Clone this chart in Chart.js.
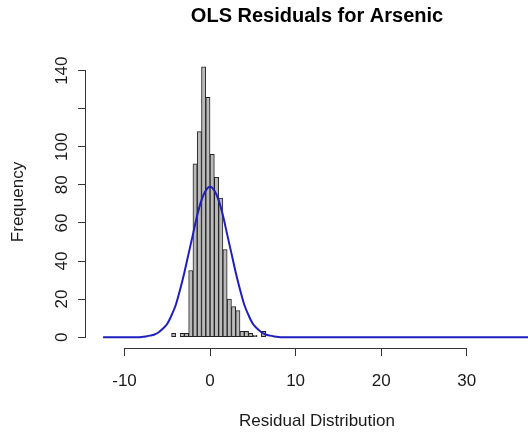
<!DOCTYPE html>
<html>
<head>
<meta charset="utf-8">
<script src="https://cdn.jsdelivr.net/npm/chart.js@4.4.1/dist/chart.umd.min.js"></script>
<style>
  html, body { margin: 0; padding: 0; overflow: hidden; background: #fff; }
  #wrap { width: 570px; height: 436px; position: relative; }
</style>
</head>
<body>
<div id="wrap"><canvas id="residChart"></canvas></div>
<script>
// histogram bins (mid points, bin width 0.5) and counts
const binMids = [-4.25, -3.75, -3.25, -2.75, -2.25, -1.75, -1.25, -0.75, -0.25, 0.25, 0.75,
                 1.25, 1.75, 2.25, 2.75, 3.25, 3.75, 4.25, 4.75, 5.25, 5.75, 6.25];
const binCounts = [2, 0, 2, 2, 35, 91, 108, 142, 126, 96, 84,
                   73, 46, 20, 16, 14, 3, 3, 2, 1, 0, 3];

// normal curve overlay
const curveX = [-12.5, -8.5, -8, -7.5, -7, -6.5, -6, -5.5, -5, -4.5, -4, -3.5, -3, -2.5, -2, -1.5, -1, -0.5, 0,
                0.5, 1, 1.5, 2, 2.5, 3, 3.5, 4, 4.5, 5, 5.5, 6, 6.5, 7, 7.5, 8, 8.5, 37.5];
const curveY = [0, 0, 0.1, 0.4, 0.8, 1.4, 2.6, 4.5, 7, 11.5, 17, 25, 34, 44, 54, 64, 72, 77, 79,
                77, 72, 64, 54, 44, 34, 25, 17, 11.5, 7, 4.5, 2.6, 1.4, 0.8, 0.4, 0.1, 0, 0];

const xTicks = [-10, 0, 10, 20, 30];
const yTicks = [0, 20, 40, 60, 80, 100, 120, 140];
const yTickLabels = ['0', '20', '40', '60', '80', '100', '', '140'];

const FONT = "'Liberation Sans', Arial, sans-serif";
const INK = '#1a1a1a';

// R style axis lines: only between first and last tick
const axisLines = {
    id: 'axisLines',
    afterDraw(chart) {
        const { ctx, chartArea, scales: { x, y } } = chart;
        ctx.save();
        ctx.strokeStyle = '#333';
        ctx.lineWidth = 1;
        ctx.beginPath();
        ctx.moveTo(x.getPixelForValue(xTicks[0]), chartArea.bottom + 0.5);
        ctx.lineTo(x.getPixelForValue(xTicks[xTicks.length - 1]), chartArea.bottom + 0.5);
        ctx.moveTo(chartArea.left - 0.5, y.getPixelForValue(yTicks[0]));
        ctx.lineTo(chartArea.left - 0.5, y.getPixelForValue(yTicks[yTicks.length - 1]));
        ctx.stroke();
        ctx.restore();
    }
};

const ctx = document.getElementById('residChart').getContext('2d');
new Chart(ctx, {
    type: 'bar',
    data: {
        datasets: [{
            type: 'line',
            label: 'Normal curve',
            data: curveX.map((v, i) => ({ x: v, y: curveY[i] })),
            borderColor: '#1f1fbf',
            borderWidth: 2,
            pointRadius: 0,
            fill: false,
            cubicInterpolationMode: 'monotone',
            order: 0
        }, {
            label: 'Frequency',
            data: binMids.map((v, i) => ({ x: v, y: binCounts[i] })),
            backgroundColor: '#bababa',
            borderColor: '#222',
            borderWidth: 1,
            borderSkipped: false,
            barPercentage: 1,
            categoryPercentage: 1,
            order: 1
        }]
    },
    options: {
        responsive: true,
        maintainAspectRatio: false,
        animation: false,
        layout: { padding: { left: 0, right: 22, top: 0, bottom: 0 } },
        scales: {
            x: {
                type: 'linear',
                min: -14.5,
                max: 39.5,
                offset: false,
                afterBuildTicks: (scale) => { scale.ticks = xTicks.map(v => ({ value: v })); },
                afterFit: (scale) => { scale.height = 88; },
                grid: { display: true, offset: false, drawOnChartArea: false, tickLength: 8, color: '#333' },
                border: { display: false },
                ticks: {
                    color: INK,
                    padding: 15,
                    maxRotation: 0,
                    font: { family: FONT, size: 17 }
                },
                title: {
                    display: true,
                    text: 'Residual Distribution',
                    color: INK,
                    font: { family: FONT, size: 17 },
                    padding: { top: 0, bottom: 4 }
                }
            },
            y: {
                min: -5.7,
                max: 147.7,
                afterBuildTicks: (scale) => { scale.ticks = yTicks.map(v => ({ value: v })); },
                afterFit: (scale) => { scale.width = 86; },
                grid: { display: true, drawOnChartArea: false, tickLength: 8, color: '#333' },
                border: { display: false },
                ticks: {
                    color: INK,
                    padding: 2,
                    minRotation: 90,
                    maxRotation: 90,
                    crossAlign: 'center',
                    font: { family: FONT, size: 17 },
                    callback: (value) => yTickLabels[yTicks.indexOf(value)]
                },
                title: {
                    display: true,
                    text: 'Frequency',
                    color: INK,
                    font: { family: FONT, size: 17 },
                    padding: { top: 8, bottom: 0 }
                }
            }
        },
        plugins: {
            legend: { display: false },
            tooltip: { enabled: false },
            title: {
                display: true,
                fullSize: false,
                text: 'OLS Residuals for Arsenic',
                color: '#000',
                font: { family: FONT, size: 20, weight: 'bold' },
                padding: { top: 4, bottom: 28 }
            }
        }
    },
    plugins: [axisLines]
});
</script>
</body>
</html>
